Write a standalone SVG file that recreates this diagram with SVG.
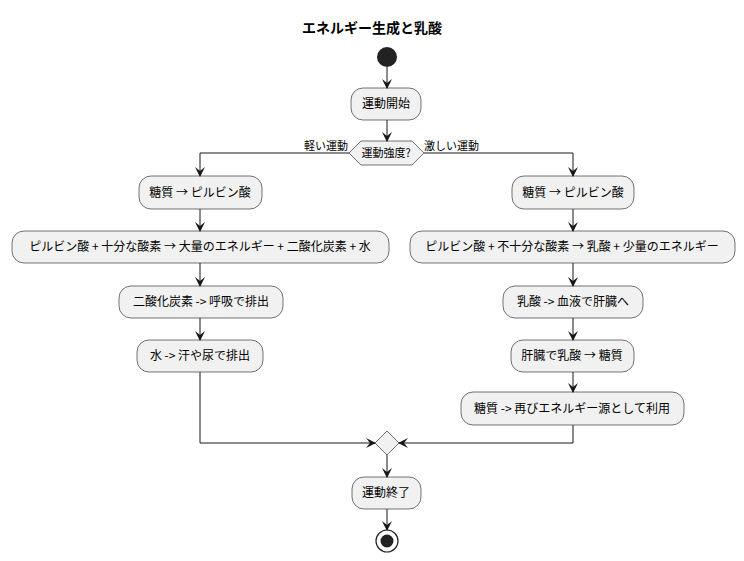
<svg xmlns="http://www.w3.org/2000/svg" width="744" height="561" viewBox="0 0 744 561">
<defs>
<style>
text{font-family:"Noto Sans CJK JP","Liberation Sans",sans-serif;font-size:12px;fill:#000}
.b rect{fill:#f1f1f1;stroke:#181818;stroke-width:0.6}
.b text{text-anchor:middle}
.c path{fill:none;stroke:#181818;stroke-width:1}
</style>
<marker id="a" viewBox="0 0 10 10" refX="9" refY="5" markerWidth="10" markerHeight="10" orient="auto" markerUnits="userSpaceOnUse"><path d="M0,0 L10,5 L0,10 L4,5 Z" fill="#181818"/></marker>
</defs>
<rect width="744" height="561" fill="#fff"/>
<text x="372" y="33" text-anchor="middle" style="font-size:14px;font-weight:bold">エネルギー生成と乳酸</text>
<g id="start"><circle cx="387" cy="57" r="10" fill="#222"/></g>
<g id="n1" class="b"><rect x="351" y="88" width="70" height="32" rx="12"/><text x="386" y="108">運動開始</text></g>
<g id="dec"><polygon points="349,153 361,141 412,141 424,153 412,165 361,165" fill="#f1f1f1" stroke="#181818" stroke-width="0.6"/><text x="386" y="157" text-anchor="middle" style="font-size:11px">運動強度?</text>
<text x="348" y="150" text-anchor="end" style="font-size:11px">軽い運動</text><text x="424" y="150" style="font-size:11px">激しい運動</text></g>
<g id="l1" class="b"><rect x="139" y="176" width="123" height="33" rx="12"/><text x="200" y="197">糖質 → ピルビン酸</text></g>
<g id="l2" class="b"><rect x="12" y="231" width="377" height="32" rx="12"/><text x="200" y="251">ピルビン酸 + 十分な酸素 → 大量のエネルギー + 二酸化炭素 + 水</text></g>
<g id="l3" class="b"><rect x="119" y="286" width="164" height="32" rx="12"/><text x="201" y="306">二酸化炭素 -&gt; 呼吸で排出</text></g>
<g id="l4" class="b"><rect x="137" y="340" width="126" height="32" rx="12"/><text x="200" y="360">水 -&gt; 汗や尿で排出</text></g>
<g id="r1" class="b"><rect x="512" y="176" width="122" height="33" rx="12"/><text x="573" y="197">糖質 → ピルビン酸</text></g>
<g id="r2" class="b"><rect x="410" y="231" width="325" height="32" rx="12"/><text x="572" y="251">ピルビン酸 + 不十分な酸素 → 乳酸 + 少量のエネルギー</text></g>
<g id="r3" class="b"><rect x="503" y="286" width="140" height="32" rx="12"/><text x="573" y="306">乳酸 -&gt; 血液で肝臓へ</text></g>
<g id="r4" class="b"><rect x="511" y="340" width="123" height="32" rx="12"/><text x="572" y="360">肝臓で乳酸 → 糖質</text></g>
<g id="r5" class="b"><rect x="461" y="392" width="223" height="33" rx="12"/><text x="572" y="413">糖質 -&gt; 再びエネルギー源として利用</text></g>
<g id="merge"><polygon points="387,431 399,443 387,455 375,443" fill="#f1f1f1" stroke="#181818" stroke-width="0.6"/></g>
<g id="n2" class="b"><rect x="352" y="477" width="69" height="32" rx="12"/><text x="386" y="497">運動終了</text></g>
<g id="end"><circle cx="387" cy="541" r="11" fill="none" stroke="#222" stroke-width="1.2"/><circle cx="387" cy="541" r="6.5" fill="#222"/></g>
<g id="connectors" class="c">
<path d="M387,67 V88" marker-end="url(#a)"/>
<path d="M387,120 V141" marker-end="url(#a)"/>
<path d="M349,153 H200 V176" marker-end="url(#a)"/>
<path d="M424,153 H573 V176" marker-end="url(#a)"/>
<path d="M200,209 V231" marker-end="url(#a)"/>
<path d="M200,263 V286" marker-end="url(#a)"/>
<path d="M200,318 V340" marker-end="url(#a)"/>
<path d="M573,209 V231" marker-end="url(#a)"/>
<path d="M573,263 V286" marker-end="url(#a)"/>
<path d="M573,318 V340" marker-end="url(#a)"/>
<path d="M573,372 V392" marker-end="url(#a)"/>
<path d="M200,372 V443 H375" marker-end="url(#a)"/>
<path d="M573,425 V443 H399" marker-end="url(#a)"/>
<path d="M387,455 V477" marker-end="url(#a)"/>
<path d="M387,509 V530" marker-end="url(#a)"/>
</g>
</svg>
